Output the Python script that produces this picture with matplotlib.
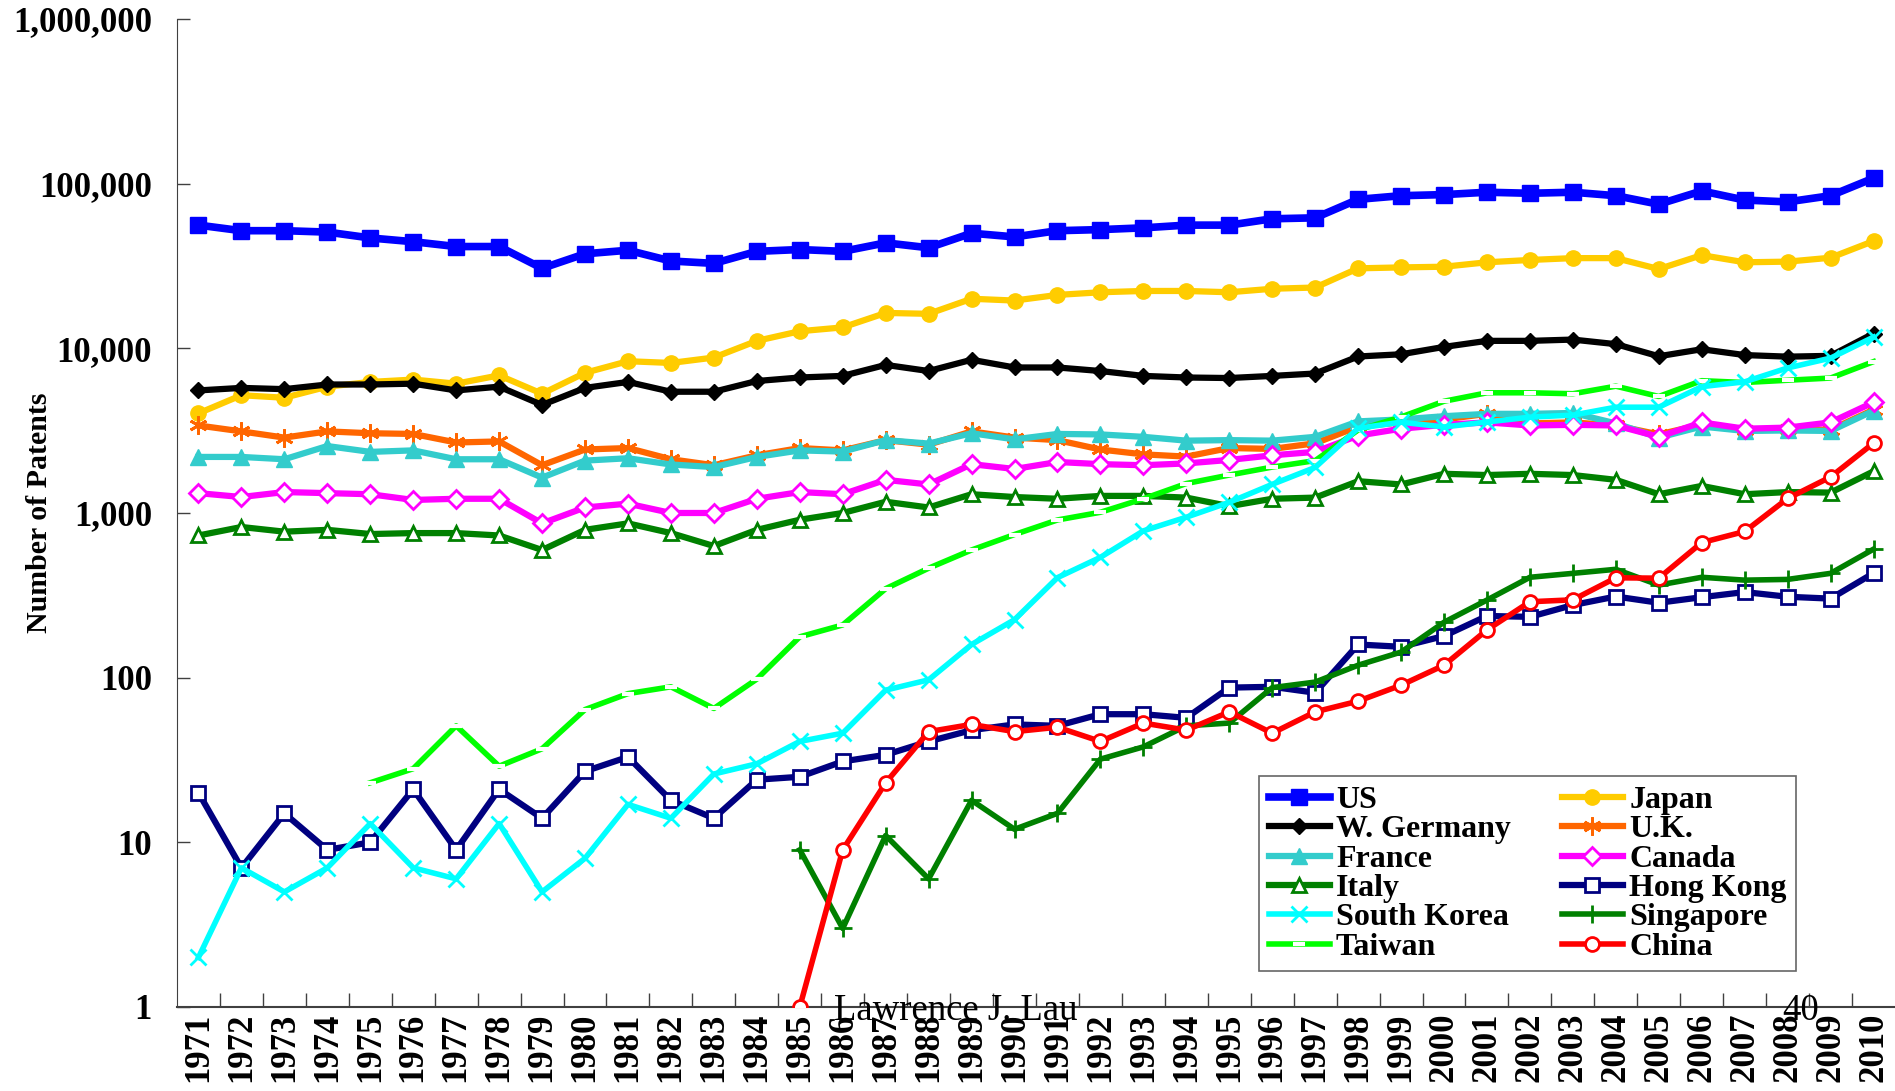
import matplotlib
matplotlib.use("Agg")
import matplotlib.pyplot as plt
from matplotlib.ticker import FixedLocator, FuncFormatter

# Années
annees = list(range(1971, 2011))

# Brevets par pays (échelle log)
us = [56000, 51800, 51800, 50800, 46800, 44400, 41500, 41500, 30600, 37500,
      39400, 33900, 32800, 38800, 39800, 38800, 43700, 40800, 50000, 47500,
      51800, 52600, 53900, 56000, 56000, 61200, 62000, 80300, 84500, 85800,
      88700, 87400, 88700, 84500, 75000, 90300, 79500, 77500, 84500, 108000]
japon = [4030, 5190, 5010, 5850, 6250, 6460, 6100, 6850, 5300, 7100,
         8350, 8150, 8790, 11100, 12700, 13400, 16400, 16200, 20000, 19500,
         21100, 21900, 22300, 22300, 21900, 23000, 23400, 30600, 31000, 31300,
         33300, 34400, 35300, 35300, 30300, 36800, 33300, 33600, 35500, 44800]
allemagne = [5550, 5750, 5650, 6030, 6030, 6100, 5550, 5850, 4530, 5750,
             6250, 5450, 5450, 6330, 6650, 6800, 7930, 7280, 8520, 7650,
             7650, 7280, 6800, 6650, 6600, 6800, 7030, 8920, 9200, 10200,
             11100, 11100, 11300, 10600, 8950, 9870, 9100, 8900, 9000, 12300]
royaume_uni = [3400, 3130, 2870, 3130, 3050, 3020, 2680, 2720, 1950, 2430,
               2480, 2120, 1950, 2240, 2480, 2400, 2770, 2600, 3130, 2870,
               2770, 2430, 2270, 2200, 2480, 2450, 2650, 3350, 3550, 3700,
               4000, 3500, 3550, 3400, 3000, 3450, 3170, 3220, 3200, 4240]
france = [2190, 2190, 2120, 2550, 2350, 2400, 2120, 2120, 1640, 2080,
          2150, 1970, 1900, 2190, 2400, 2360, 2770, 2640, 3050, 2800,
          3020, 3000, 2900, 2750, 2770, 2750, 2900, 3600, 3700, 3870,
          4000, 4000, 4050, 3500, 2870, 3350, 3150, 3170, 3150, 4180]
canada = [1320, 1250, 1340, 1320, 1300, 1200, 1220, 1220, 865, 1080,
          1140, 1000, 1000, 1220, 1340, 1300, 1590, 1490, 1980, 1850,
          2040, 1980, 1950, 2000, 2100, 2240, 2350, 2950, 3250, 3430,
          3550, 3400, 3430, 3400, 2900, 3550, 3250, 3300, 3550, 4700]
italie = [730, 822, 770, 790, 745, 755, 755, 730, 596, 790,
          865, 755, 630, 790, 910, 1000, 1170, 1080, 1300, 1250,
          1220, 1270, 1270, 1240, 1100, 1220, 1240, 1560, 1490, 1730,
          1700, 1730, 1700, 1590, 1300, 1460, 1300, 1340, 1330, 1790]
hong_kong = [20, 7, 15, 9, 10, 21, 9, 21, 14, 27,
             33, 18, 14, 24, 25, 31, 34, 41, 48, 52,
             51, 60, 60, 57, 87, 88, 81, 159, 154, 179,
             237, 234, 276, 311, 285, 308, 331, 310, 302, 431]
coree_sud = [2, 7, 5, 7, 13, 7, 6, 13, 5, 8,
             17, 14, 26, 30, 41, 46, 84, 97, 159, 225,
             405, 538, 779, 943, 1161, 1493, 1891, 3270, 3560, 3330,
             3570, 3820, 3930, 4390, 4390, 5850, 6260, 7600, 8720, 11700]
# Singapour, Taïwan et Chine commencent plus tard (None = pas de donnée)
singapour = [None] * 14 + [9, 3, 11, 6, 18, 12, 15, 32, 38, 51,
                           53, 87, 94, 119, 143, 217, 296, 407, 430, 455,
                           365, 407, 391, 395, 430, 603]
taiwan = [None] * 4 + [23, 28, 51, 29, 37, 64, 80, 88, 65, 98,
                       177, 209, 347, 462, 596, 740, 907, 1010, 1220, 1510,
                       1700, 1900, 2080, 3190, 3830, 4770, 5370, 5370, 5300, 5890,
                       5100, 6360, 6200, 6400, 6600, 8300]
chine = [None] * 14 + [1, 9, 23, 47, 52, 47, 50, 41, 53, 48,
                       62, 46, 62, 72, 90, 119, 195, 289, 297, 404,
                       402, 661, 772, 1225, 1655, 2657]

graduations_y = [1, 10, 100, 1000, 10000, 100000, 1000000]

plt.rcParams['font.family'] = ['Liberation Serif', 'DejaVu Serif']

fig = plt.figure(figsize=(18.95, 10.91), dpi=100)
ax = fig.add_axes([0.0934, 0.077, 0.9066, 0.9056])

blanc = 'white'
series = [
    # (nom, valeurs, couleur, marqueur, taille, face, epaisseur)
    ('US', us, '#0000FF', 's', 12, None, 5.5),
    ('Japan', japon, '#FFCC00', 'o', 11, None, 4.5),
    ('W. Germany', allemagne, '#000000', 'D', 8, None, 4.5),
    ('U.K.', royaume_uni, '#FF6600', (6, 2, 0), 13, None, 4.5),
    ('France', france, '#33CCCC', '^', 11, None, 4.5),
    ('Canada', canada, '#FF00FF', 'D', 9, blanc, 4.5),
    ('Italy', italie, '#008000', '^', 10, blanc, 4.5),
    ('Taiwan', taiwan, '#00FF00', '_', 8, None, 4.0),
    ('Hong Kong', hong_kong, '#000080', 's', 10, blanc, 4.5),
    ('South Korea', coree_sud, '#00FFFF', 'x', 12, None, 4.0),
    ('Singapore', singapour, '#008000', '+', 13, None, 4.0),
    ('China', chine, '#FF0000', 'o', 10, blanc, 4.0),
]

poignees = {}
for i, (nom, valeurs, couleur, marqueur, taille, face, ep) in enumerate(series):
    x = [a for a, v in zip(annees, valeurs) if v is not None]
    y = [v for v in valeurs if v is not None]
    if nom == 'Taiwan':
        ligne, = ax.plot(x, y, color=couleur, lw=ep, marker='_', ms=taille,
                         mec=blanc, mew=3, zorder=2 + i, label=nom)
    else:
        ligne, = ax.plot(x, y, color=couleur, lw=ep, marker=marqueur, ms=taille,
                         mfc=face if face else couleur, mec=couleur,
                         mew=2 if face or marqueur in ('x', '+', (6, 2, 0)) else 1,
                         zorder=2 + i, label=nom)
    poignees[nom] = ligne

ax.set_yscale('log')
ax.set_ylim(1, 1000000)
ax.set_xlim(1970.5, 2010.5)

# Axe Y : graduations vers l'intérieur, libellés avec séparateur de milliers
ax.yaxis.set_major_locator(FixedLocator(graduations_y))
ax.yaxis.set_minor_locator(FixedLocator([]))
ax.yaxis.set_major_formatter(FuncFormatter(lambda v, p: f"{int(v):,}"))
ax.tick_params(axis='y', which='major', direction='in', length=9, width=1,
               pad=18, labelsize=25, color='#404040')
for t in ax.get_yticklabels():
    t.set_fontweight('bold')

# Axe X : libellés des années verticaux, graduations entre les catégories
ax.set_xticks(annees)
ax.set_xticklabels([str(a) for a in annees], rotation=90, fontsize=25,
                   fontweight='bold', va='top')
ax.set_xticks([a + 0.5 for a in annees[:-1]], minor=True)
ax.tick_params(axis='x', which='major', length=0, pad=4)
ax.tick_params(axis='x', which='minor', direction='in', length=10, width=1,
               color='#404040')

ax.spines['top'].set_visible(False)
ax.spines['right'].set_visible(False)
ax.spines['left'].set_color('#404040')
ax.spines['bottom'].set_color('#404040')
ax.spines['bottom'].set_linewidth(1.5)

fig.text(0.021, 0.53, 'Number of Patents', rotation=90, fontsize=21.5,
         fontweight='bold', ha='center', va='center')

# Légende en lignes (ordre Excel)
ordre = ['US', 'W. Germany', 'France', 'Italy', 'South Korea', 'Taiwan',
         'Japan', 'U.K.', 'Canada', 'Hong Kong', 'Singapore', 'China']
leg = ax.legend([poignees[n] for n in ordre], ordre, ncol=2,
                loc='lower left', bbox_to_anchor=(0.630, 0.036),
                prop={'weight': 'bold', 'size': 23}, frameon=True,
                fancybox=False, edgecolor='#404040', borderpad=0.3,
                labelspacing=0.0, handlelength=1.9, handletextpad=0.2,
                columnspacing=1.6, borderaxespad=0)
leg.get_frame().set_linewidth(1.2)

# Pied de page de la diapositive
fig.text(0.44, 0.074, 'Lawrence J. Lau', fontsize=26.5, ha='left', va='center')
fig.text(0.95, 0.074, '40', fontsize=26.5, ha='center', va='center')

fig.savefig('out.png', dpi=100)
